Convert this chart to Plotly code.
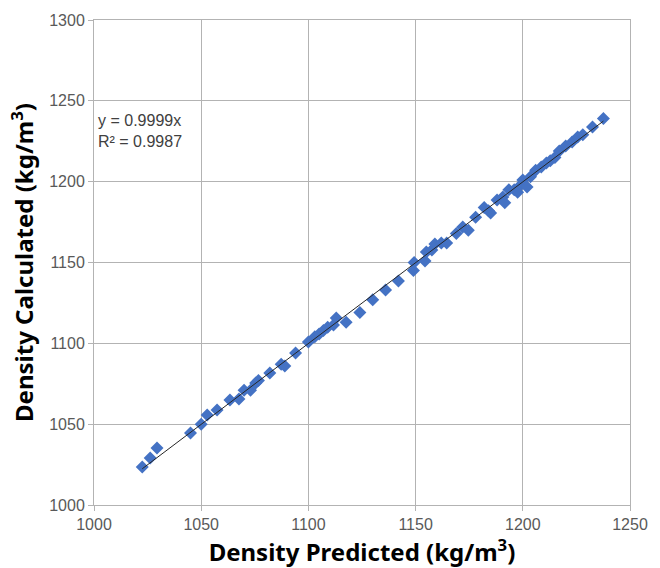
import plotly.graph_objects as go

predicted = [1022.5, 1026.2, 1029.4, 1045.0, 1050.0, 1052.8, 1057.4, 1063.4, 1067.6, 1070.0,
             1073.0, 1075.4, 1076.7, 1082.0, 1087.3, 1089.0, 1094.0, 1100.0, 1103.0, 1105.0,
             1107.0, 1109.0, 1111.7, 1113.0, 1117.6, 1124.0, 1130.0, 1136.0, 1142.0, 1149.0,
             1149.3, 1154.4, 1155.0, 1157.6, 1159.0, 1162.0, 1164.5, 1169.0, 1172.0, 1174.6,
             1178.0, 1182.0, 1184.0, 1185.0, 1188.0, 1190.7, 1191.6, 1193.5, 1196.0, 1197.6,
             1199.0, 1200.0, 1202.0, 1203.6, 1206.0, 1208.6, 1211.0, 1212.8, 1215.0, 1217.0,
             1220.0, 1223.0, 1225.6, 1228.0, 1232.5, 1237.6]
calculated = [1023.5, 1029.0, 1035.3, 1044.5, 1050.0, 1055.7, 1058.8, 1065.0, 1065.5, 1071.0,
              1071.0, 1075.4, 1077.0, 1081.6, 1087.0, 1086.0, 1094.0, 1100.8, 1104.0, 1105.7,
              1108.0, 1110.0, 1111.3, 1115.6, 1113.0, 1119.0, 1127.0, 1133.0, 1138.5, 1145.0,
              1150.0, 1151.0, 1156.5, 1157.7, 1161.4, 1162.0, 1162.0, 1168.0, 1172.0, 1170.0,
              1178.0, 1184.0, 1182.0, 1180.6, 1188.6, 1190.5, 1187.0, 1195.0, 1195.0, 1193.5,
              1198.0, 1201.0, 1196.7, 1203.0, 1207.0, 1209.0, 1211.5, 1213.0, 1215.0, 1219.0,
              1222.0, 1224.5, 1227.6, 1229.0, 1233.8, 1239.0]

slope = 0.9999
r2 = 0.9987
x_ticks = [1000, 1050, 1100, 1150, 1200, 1250]
y_ticks = [1000, 1050, 1100, 1150, 1200, 1250, 1300]

xmin, xmax = min(predicted), max(predicted)

fig = go.Figure()
fig.add_trace(go.Scatter(
    x=predicted, y=calculated, mode="markers",
    marker=dict(symbol="diamond", size=10, color="#4472C4", line=dict(width=0)),
    showlegend=False,
))
fig.add_trace(go.Scatter(
    x=[xmin, xmax], y=[slope * xmin, slope * xmax], mode="lines",
    line=dict(color="#262626", width=1), showlegend=False,
))

fig.add_annotation(
    x=0.003, y=0.815, xref="paper", yref="paper", xanchor="left", yanchor="top",
    text=f"y = {slope}x<br>R² = {r2}", showarrow=False, align="left",
    font=dict(family="Liberation Sans, Arial", size=16, color="#404040"),
)

axis_common = dict(
    showgrid=True, gridcolor="#b3b3b3", gridwidth=1,
    showline=True, linecolor="#b3b3b3", linewidth=1, mirror=True,
    ticks="outside", ticklen=5, tickcolor="#b3b3b3",
    tickfont=dict(family="Liberation Sans, Arial", size=16, color="#595959"),
    zeroline=False,
)

fig.update_layout(
    width=660, height=568,
    margin=dict(l=94, r=22, t=20, b=63),
    paper_bgcolor="white", plot_bgcolor="white",
    xaxis=dict(range=[1000, 1250], tickvals=x_ticks,
               title=dict(text="Density Predicted (kg/m<sup>3</sup>)",
                          font=dict(family="Noto Sans", size=24, color="black"),
                          standoff=6),
               **axis_common),
    yaxis=dict(range=[1000, 1300], tickvals=y_ticks,
               title=dict(text="Density Calculated (kg/m<sup>3</sup>)",
                          font=dict(family="Noto Sans", size=24, color="black"),
                          standoff=8),
               **axis_common),
)
fig.update_xaxes(title_font_weight="bold")
fig.update_yaxes(title_font_weight="bold")

fig.write_html("out.html")
